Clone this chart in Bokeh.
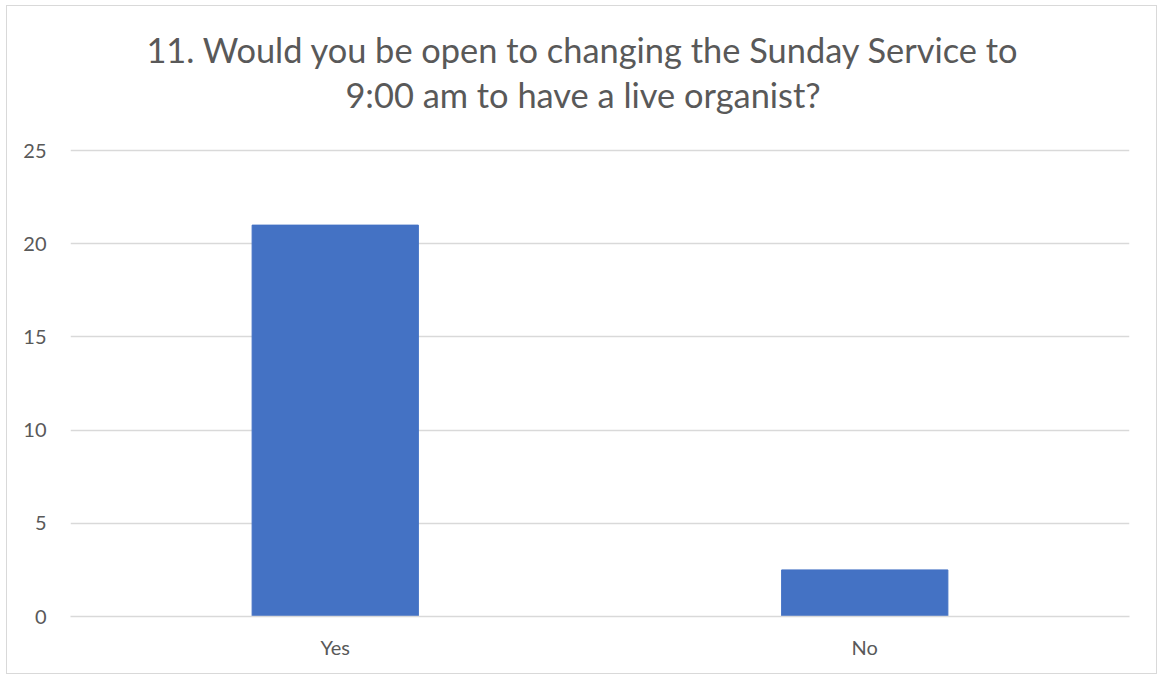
from bokeh.plotting import figure
from bokeh.models import FixedTicker, Range1d, Label
from bokeh.embed import file_html
from bokeh.resources import INLINE

categories = ["Yes", "No"]
counts = [21, 2.5]
y_ticks = [0, 5, 10, 15, 20, 25]
title_lines = ["11. Would you be open to changing the Sunday Service to",
               "9:00 am to have a live organist?"]

FONT = "Lato"
TXT = "#595959"
GRID = "#d9d9d9"

# the frame extends up over the title area; gridlines/ticks stop at 25
Y_TOP = 32.73

p = figure(
    x_range=categories,
    y_range=Range1d(0, Y_TOP),
    width=1151,
    height=669,
    output_backend="svg",
    toolbar_location=None,
    min_border_left=63,
    min_border_right=29,
    min_border_top=0,
    min_border_bottom=59,
)
p.styles = {"border": "1px solid #d9d9d9", "margin-left": "6px", "margin-top": "5px"}
p.title.visible = False

# title lines (x in category-synthetic units, y in value units above the 25 line)
for line, ty in zip(title_lines, [30.42, 28.0]):
    p.add_layout(Label(x=0.968, y=ty, text=line,
                       text_align="center", text_baseline="alphabetic",
                       text_font=FONT, text_font_size="34.4px", text_color=TXT))

p.vbar(x=categories, top=counts, width=0.314, color="#4472C4", line_color="#4472C4")

p.outline_line_color = None
p.background_fill_color = "white"
p.border_fill_color = "white"

p.xgrid.grid_line_color = None
p.ygrid.grid_line_color = GRID
p.ygrid.grid_line_width = 1.5
p.ygrid.ticker = FixedTicker(ticks=y_ticks)

p.yaxis.ticker = FixedTicker(ticks=y_ticks)
p.yaxis.axis_line_color = None
p.yaxis.major_tick_line_color = None
p.yaxis.minor_tick_line_color = None
p.yaxis.major_label_standoff = 18
p.yaxis.major_label_text_font = FONT
p.yaxis.major_label_text_font_size = "20px"
p.yaxis.major_label_text_color = TXT

p.xaxis.axis_line_color = GRID
p.xaxis.axis_line_width = 1.5
p.xaxis.major_tick_line_color = None
p.xaxis.minor_tick_line_color = None
p.xaxis.major_label_standoff = 12
p.xaxis.major_label_text_font = FONT
p.xaxis.major_label_text_font_size = "20px"
p.xaxis.major_label_text_color = TXT
p.x_range.range_padding = 0

open("out.html", "w").write(file_html(p, INLINE))
